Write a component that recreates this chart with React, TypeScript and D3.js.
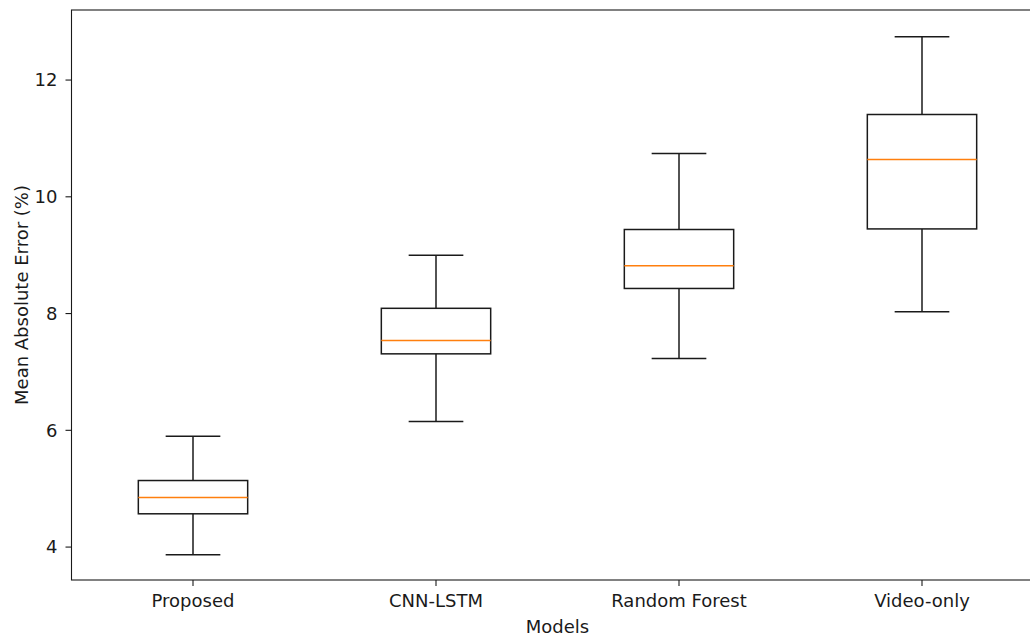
import React from 'react';
import * as d3 from 'd3';

const MODELS = ['Proposed', 'CNN-LSTM', 'Random Forest', 'Video-only'];
const WHISKER_LOW = [3.87, 6.15, 7.23, 8.03];
const Q1 = [4.57, 7.31, 8.43, 9.45];
const MEDIAN = [4.85, 7.54, 8.82, 10.64];
const Q3 = [5.14, 8.09, 9.44, 11.41];
const WHISKER_HIGH = [5.9, 9.0, 10.74, 12.74];
const Y_TICKS = [4, 6, 8, 10, 12];

const W = 1030;
const H = 634;
const FONT = '"DejaVu Sans", sans-serif';
const INK = '#1a1a1a';
const FS = 18;

export default function App() {
  const left = 71.5;
  const right = 1043.5;
  const top = 10;
  const bottom = 580;

  // positions 1..4, xlim 0.5..4.5 like matplotlib
  const x = d3.scaleLinear().domain([0.5, 4.5]).range([left, right]);
  const y = d3.scaleLinear().domain([3.436, 13.2]).range([bottom, top]);
  const boxW = x(1.45) - x(1);
  const capW = boxW / 2;

  return (
    <div style={{ position: 'absolute', left: 0, top: 0 }}>
      <svg width={W} height={H} style={{ display: 'block', background: '#fff' }}>
        {MODELS.map((m, i) => {
          const cx = x(i + 1);
          return (
            <g key={m} stroke={INK} strokeWidth={1.5} fill="none">
              <line x1={cx} x2={cx} y1={y(Q3[i])} y2={y(WHISKER_HIGH[i])} />
              <line x1={cx} x2={cx} y1={y(Q1[i])} y2={y(WHISKER_LOW[i])} />
              <line x1={cx - capW / 2} x2={cx + capW / 2} y1={y(WHISKER_HIGH[i])} y2={y(WHISKER_HIGH[i])} />
              <line x1={cx - capW / 2} x2={cx + capW / 2} y1={y(WHISKER_LOW[i])} y2={y(WHISKER_LOW[i])} />
              <rect x={cx - boxW / 2} y={y(Q3[i])} width={boxW} height={y(Q1[i]) - y(Q3[i])} />
              <line
                x1={cx - boxW / 2}
                x2={cx + boxW / 2}
                y1={y(MEDIAN[i])}
                y2={y(MEDIAN[i])}
                stroke="#ff7f0e"
                strokeWidth={1.5}
              />
            </g>
          );
        })}

        {/* frame */}
        <rect x={left} y={top} width={right - left} height={bottom - top} fill="none" stroke={INK} strokeWidth={1.1} />

        {/* y axis */}
        {Y_TICKS.map((t) => (
          <g key={t}>
            <line x1={left - 6} x2={left} y1={y(t)} y2={y(t)} stroke={INK} strokeWidth={1.1} />
            <text
              x={left - 14}
              y={y(t)}
              dy="0.35em"
              textAnchor="end"
              fontFamily={FONT}
              fontSize={FS}
              fill={INK}
            >
              {t}
            </text>
          </g>
        ))}

        {/* x axis */}
        {MODELS.map((m, i) => (
          <g key={m}>
            <line x1={x(i + 1)} x2={x(i + 1)} y1={bottom} y2={bottom + 6} stroke={INK} strokeWidth={1.1} />
            <text
              x={x(i + 1)}
              y={bottom + 27}
              textAnchor="middle"
              fontFamily={FONT}
              fontSize={FS}
              fill={INK}
            >
              {m}
            </text>
          </g>
        ))}

        <text
          x={(left + right) / 2}
          y={bottom + 53}
          textAnchor="middle"
          fontFamily={FONT}
          fontSize={FS}
          fill={INK}
        >
          Models
        </text>
        <text
          transform={`translate(28,${(top + bottom) / 2}) rotate(-90)`}
          textAnchor="middle"
          fontFamily={FONT}
          fontSize={FS}
          fill={INK}
        >
          Mean Absolute Error (%)
        </text>
      </svg>
    </div>
  );
}
